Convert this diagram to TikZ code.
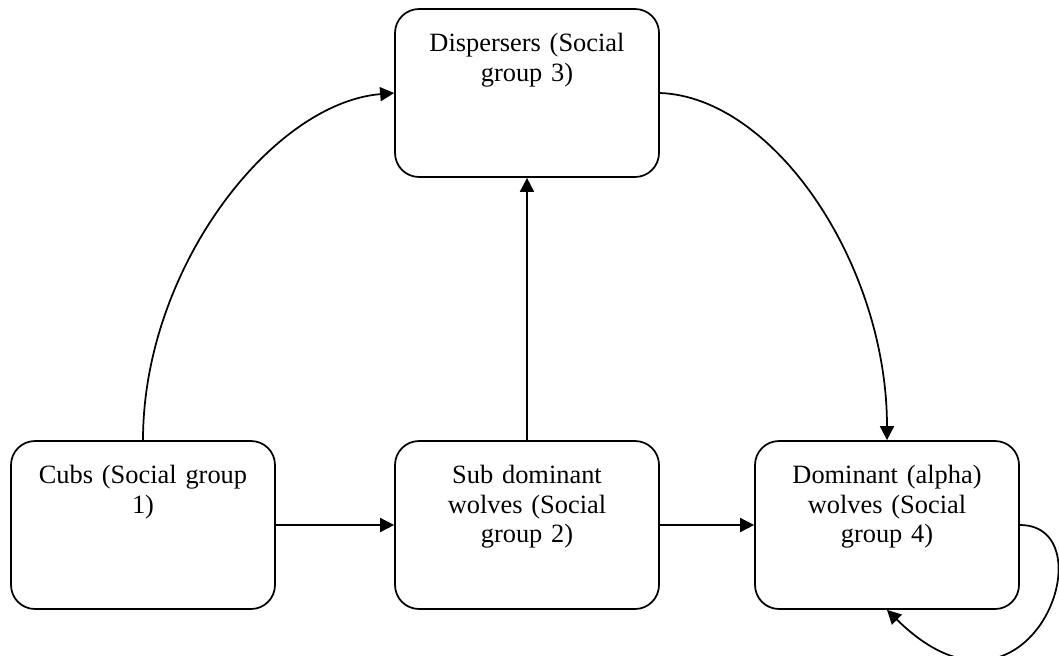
\documentclass[tikz,border=0pt]{standalone}
\usepackage{fontspec}
\setmainfont{Liberation Serif}
\usepackage{tikz}
\usetikzlibrary{positioning, arrows.meta}

\begin{document}
\begin{tikzpicture}[x=0.75pt,y=-0.75pt,line width=1.3pt,>={Triangle[length=10.5pt,width=10.5pt]}]
					\tikzstyle{group}=[draw=black,rounded corners=18pt,minimum width=198pt,inner sep=0pt,text width=196pt,align=center,text height=32pt,text depth=94pt,font=\fontsize{19.8}{22.2}\selectfont]
					\useasboundingbox (0,0) rectangle (1059,656);
					\node[group](disp) at (527,93) {Dispersers (Social\\ group 3)};
					\node[group](cubs) at (143,525) {Cubs (Social group\\ 1)};
					\node[group](sub) at (527,525) {Sub dominant\\ wolves (Social\\ group 2)};
					\node[group](dom) at (887,525) {Dominant (alpha)\\ wolves (Social\\ group 4)};
					\path[->]
						(cubs) edge (sub)
						(sub) edge (dom)
						(sub) edge (disp);
					\draw[->] (cubs.north) .. controls +(0,-172) and +(-122,10) .. (disp.west);
					\draw[->] (disp.east) .. controls +(114,4) and +(0,-176) .. (dom.north);
					\draw[->] (dom.east) .. controls +(91,0) and +(143,141) .. (dom.south);
				\end{tikzpicture}
\end{document}
